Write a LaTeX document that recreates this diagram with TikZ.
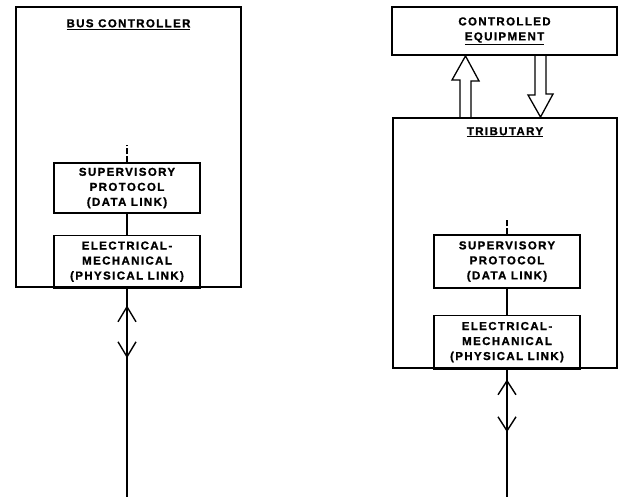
\documentclass[tikz,border=0pt]{standalone}
\usepackage{fontspec}
\setmainfont{Liberation Sans}[LetterSpace=12,BoldFeatures={FakeBold=1.2}]
\usetikzlibrary{positioning,calc}
\newcommand\lettering{\fontsize{11.5}{15}\selectfont\bfseries}

\begin{document}
\begin{tikzpicture}[x=1pt,y=-1pt,
  every node/.style={font=\lettering,inner sep=0pt,align=center},
  unit/.style={draw,line width=1.9pt},
  layer/.style={draw,line width=1.2pt,minimum width=146pt},
  stub/.style={line width=1.1pt,dash pattern=on 6pt off 2pt},
  bus/.style={line width=1.3pt},
  barb/.style={line width=1.4pt,line join=miter},
  hollow/.style={line width=1.3pt,line join=miter}]
\useasboundingbox (0,0) rectangle (623,497);

% bus controller
\node[unit,minimum width=225pt,minimum height=280pt] (bc) at (128.5,147) {};
\node[below=13pt of bc.north] (bctitle) {\underline{BUS CONTROLLER}};
\node[layer,minimum height=50pt] (sp1) at (127,188) {SUPERVISORY\\PROTOCOL\\(DATA LINK)};
\node[layer,minimum height=53pt,below=21pt of sp1] (em1) {ELECTRICAL-\\MECHANICAL\\(PHYSICAL LINK)};
\coordinate (end1) at (127,497);
\draw[stub] (sp1.north) -- ++(0,-17);
\draw[bus] (sp1) -- (em1);
\draw[bus] (em1.south) -- (end1);
\draw[barb] ($(em1.south)+(-9,33)$) -- ++(9,-15) -- ++(9,15);
\draw[barb] ($(em1.south)+(-9,53)$) -- ++(9,15) -- ++(9,-15);

% tributary
\node[unit,minimum width=225pt,minimum height=48pt] (ce) at (504.5,31) {CONTROLLED\\\underline{EQUIPMENT}};
\node[unit,minimum width=224pt,minimum height=250pt] (trib) at (505,243) {};
\node[below=10pt of trib.north] (tribtitle) {\underline{TRIBUTARY}};
\node[layer,minimum height=53pt] (sp2) at (507,261.5) {SUPERVISORY\\PROTOCOL\\(DATA LINK)};
\node[layer,minimum height=54pt,below=26pt of sp2] (em2) {ELECTRICAL-\\MECHANICAL\\(PHYSICAL LINK)};
\coordinate (end2) at (507,497);
\draw[stub] (sp2.north) -- ++(0,-15);
\draw[bus] (sp2) -- (em2);
\draw[bus] (em2.south) -- (end2);
\draw[barb] ($(em2.south)+(-9,25)$) -- ++(9,-14) -- ++(9,14);
\draw[barb] ($(em2.south)+(-9,47)$) -- ++(9,14) -- ++(9,-14);

% data paths between tributary and equipment
\coordinate (upbase) at (465.5,118);
\coordinate (dnbase) at (540.5,55);
\draw[hollow] ($(upbase)+(-5.5,0)$) -- ++(0,-38) -- ++(-8,0) -- (ce.south -| upbase)
  -- ++(13.5,25) -- ++(-8,0) -- ++(0,38);
\draw[hollow] ($(dnbase)+(-5.5,0)$) -- ++(0,40) -- ++(-7,0) -- (trib.north -| dnbase)
  -- ++(12.5,-23) -- ++(-7,0) -- ++(0,-40);
\end{tikzpicture}
\end{document}
